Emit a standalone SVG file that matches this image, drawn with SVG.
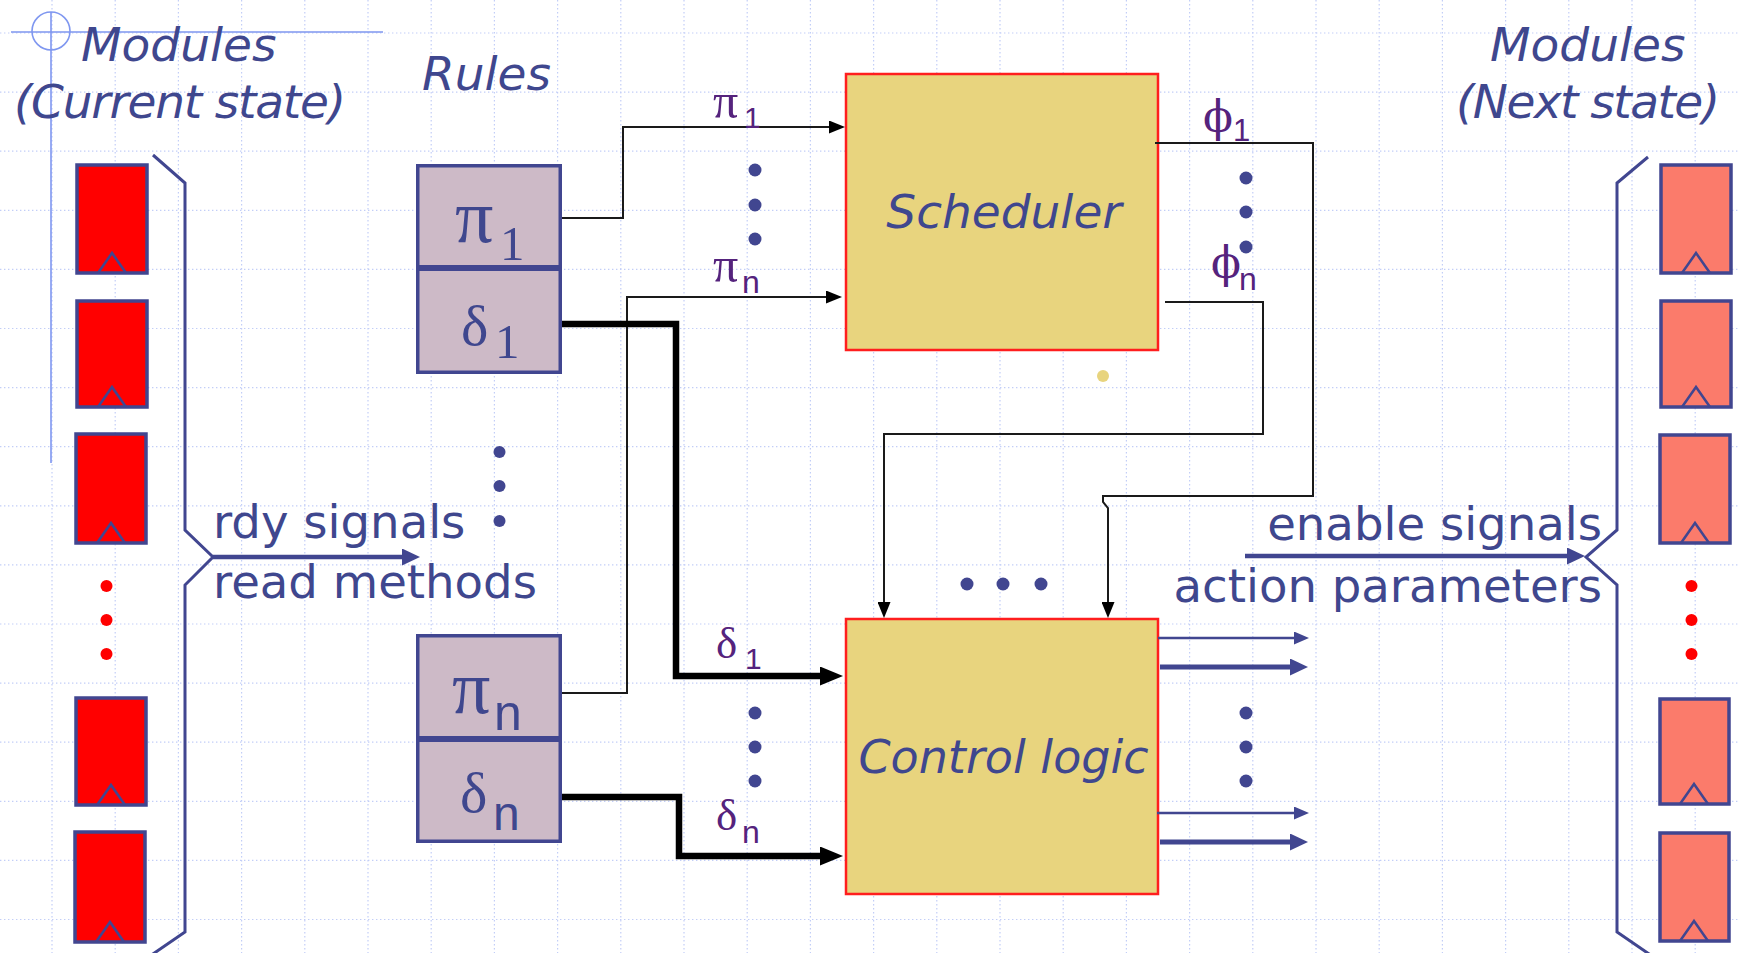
<svg xmlns="http://www.w3.org/2000/svg" width="1740" height="953" viewBox="0 0 1740 953">
<defs>
<style>
.grid line{stroke:#c2cef7;stroke-width:1.2;stroke-dasharray:1.4 2.6}
.guide{stroke:#7f97f0;stroke-width:1.6;fill:none}
.reg rect{stroke:#414690;stroke-width:3.5}
.reg path{stroke:#414690;stroke-width:2.5;fill:none}
.cur rect{fill:#ff0000}
.nxt rect{fill:#fb7b6b}
.brk{stroke:#414690;stroke-width:3;fill:none}
.title{font-family:"DejaVu Sans",Verdana,sans-serif;font-style:italic;font-size:47px;fill:#3f478e}
.lbl{font-family:"DejaVu Sans",Verdana,sans-serif;font-size:46.6px;fill:#3f478e}
.rule{fill:#cdbac7;stroke:#414690;stroke-width:3.5}
.blk{fill:#e8d47e;stroke:#ff1e1e;stroke-width:2.5}
.gk{font-family:"DejaVu Serif","Liberation Serif",serif}
.sr{font-family:"Liberation Serif","Times New Roman",serif}
.sb{font-family:"Liberation Sans",Arial,sans-serif}
.boxg{fill:#3f478e}
.pur{fill:#55237d}
.thin{stroke:#1a1a1a;stroke-width:2;fill:none}
.thick{stroke:#000;stroke-width:6.5;fill:none}
.nv{stroke:#414690;fill:none}
.dot{fill:#414690}
.rdot{fill:#ff0000}
</style>
<marker id="aB" markerUnits="userSpaceOnUse" markerWidth="16" markerHeight="13" refX="6" refY="6.5" orient="auto"><path d="M0,0 L16,6.5 L0,13 z" fill="#000"/></marker>
<marker id="aBT" markerUnits="userSpaceOnUse" markerWidth="23" markerHeight="19" refX="13" refY="9.5" orient="auto"><path d="M0,0 L23,9.5 L0,19 z" fill="#000"/></marker>
<marker id="aN" markerUnits="userSpaceOnUse" markerWidth="18" markerHeight="17" refX="8" refY="8.5" orient="auto"><path d="M0,0 L18,8.5 L0,17 z" fill="#414690"/></marker>
<marker id="aNt" markerUnits="userSpaceOnUse" markerWidth="15" markerHeight="13" refX="5" refY="6.5" orient="auto"><path d="M0,0 L15,6.5 L0,13 z" fill="#414690"/></marker>
</defs>
<rect width="1740" height="953" fill="#ffffff"/>
<g class="grid">
<line x1="52" y1="0" x2="52" y2="953"/><line x1="115.2" y1="0" x2="115.2" y2="953"/><line x1="178.4" y1="0" x2="178.4" y2="953"/><line x1="241.6" y1="0" x2="241.6" y2="953"/><line x1="304.8" y1="0" x2="304.8" y2="953"/><line x1="368" y1="0" x2="368" y2="953"/><line x1="431.2" y1="0" x2="431.2" y2="953"/><line x1="494.4" y1="0" x2="494.4" y2="953"/><line x1="557.6" y1="0" x2="557.6" y2="953"/><line x1="620.8" y1="0" x2="620.8" y2="953"/><line x1="684" y1="0" x2="684" y2="953"/><line x1="747.2" y1="0" x2="747.2" y2="953"/><line x1="810.4" y1="0" x2="810.4" y2="953"/><line x1="873.6" y1="0" x2="873.6" y2="953"/><line x1="936.8" y1="0" x2="936.8" y2="953"/><line x1="1000" y1="0" x2="1000" y2="953"/><line x1="1063.2" y1="0" x2="1063.2" y2="953"/><line x1="1126.4" y1="0" x2="1126.4" y2="953"/><line x1="1189.6" y1="0" x2="1189.6" y2="953"/><line x1="1252.8" y1="0" x2="1252.8" y2="953"/><line x1="1316" y1="0" x2="1316" y2="953"/><line x1="1379.2" y1="0" x2="1379.2" y2="953"/><line x1="1442.4" y1="0" x2="1442.4" y2="953"/><line x1="1505.6" y1="0" x2="1505.6" y2="953"/><line x1="1568.8" y1="0" x2="1568.8" y2="953"/><line x1="1632" y1="0" x2="1632" y2="953"/><line x1="1695.2" y1="0" x2="1695.2" y2="953"/>
<line x1="0" y1="33" x2="1740" y2="33"/><line x1="0" y1="92.1" x2="1740" y2="92.1"/><line x1="0" y1="151.2" x2="1740" y2="151.2"/><line x1="0" y1="210.3" x2="1740" y2="210.3"/><line x1="0" y1="269.4" x2="1740" y2="269.4"/><line x1="0" y1="328.5" x2="1740" y2="328.5"/><line x1="0" y1="387.6" x2="1740" y2="387.6"/><line x1="0" y1="446.7" x2="1740" y2="446.7"/><line x1="0" y1="505.8" x2="1740" y2="505.8"/><line x1="0" y1="564.9" x2="1740" y2="564.9"/><line x1="0" y1="624" x2="1740" y2="624"/><line x1="0" y1="683.1" x2="1740" y2="683.1"/><line x1="0" y1="742.2" x2="1740" y2="742.2"/><line x1="0" y1="801.3" x2="1740" y2="801.3"/><line x1="0" y1="860.4" x2="1740" y2="860.4"/><line x1="0" y1="919.5" x2="1740" y2="919.5"/>
</g>
<g id="guides">
<path class="guide" d="M11,32 H383 M51,12 V463"/>
<circle class="guide" cx="51" cy="31" r="19"/>
</g>
<g id="titles">
<text class="title" x="81" y="61">Modules</text>
<text class="title" x="14" y="118" textLength="332">(Current state)</text>
<text class="title" x="422" y="90">Rules</text>
<text class="title" x="1490" y="61">Modules</text>
<text class="title" x="1456" y="118" textLength="264">(Next state)</text>
</g>
<g id="current-modules" class="reg cur">
<rect x="77" y="165" width="70" height="108"/><path d="M98,273 L112,253 L126,273"/>
<rect x="77" y="301" width="70" height="106"/><path d="M98,407 L112,387 L126,407"/>
<rect x="76" y="434" width="70" height="109"/><path d="M97,543 L111,523 L125,543"/>
<rect x="76" y="698" width="70" height="107"/><path d="M97,805 L111,785 L125,805"/>
<rect x="75" y="832" width="70" height="110"/><path d="M96,942 L110,922 L124,942"/>
</g>
<g id="next-modules" class="reg nxt">
<rect x="1661" y="165" width="70" height="108"/><path d="M1682,273 L1696,253 L1710,273"/>
<rect x="1661" y="301" width="70" height="106"/><path d="M1682,407 L1696,387 L1710,407"/>
<rect x="1660" y="435" width="70" height="108"/><path d="M1681,543 L1695,523 L1709,543"/>
<rect x="1660" y="699" width="69" height="105"/><path d="M1680,804 L1694,784 L1708,804"/>
<rect x="1660" y="833" width="69" height="108"/><path d="M1680,941 L1694,921 L1708,941"/>
</g>
<g id="red-dots">
<circle class="rdot" cx="106.5" cy="586" r="6"/><circle class="rdot" cx="106.5" cy="620" r="6"/><circle class="rdot" cx="106.5" cy="654" r="6"/>
<circle class="rdot" cx="1691.5" cy="586" r="6"/><circle class="rdot" cx="1691.5" cy="620" r="6"/><circle class="rdot" cx="1691.5" cy="654" r="6"/>
</g>
<g id="brackets">
<path class="brk" d="M153,155 L185,183 V530 L213,557 L185,585 V932 L150,956"/>
<path class="brk" d="M1648,157 L1617,183 V530 L1586,557 L1617,585 V932 L1652,956"/>
</g>
<g id="rule-1">
<rect class="rule" x="417.75" y="165.75" width="142.5" height="206.5"/>
<line x1="417" y1="268" x2="561" y2="268" stroke="#414690" stroke-width="6"/>
<text class="sr boxg" x="455" y="242" font-size="76">π</text><text class="sr boxg" x="500" y="260" font-size="49">1</text>
<text class="sr boxg" x="461" y="345" font-size="58">δ</text><text class="sr boxg" x="495" y="358" font-size="49">1</text>
</g>
<g id="rule-n">
<rect class="rule" x="417.75" y="635.75" width="142.5" height="205.5"/>
<line x1="417" y1="739" x2="561" y2="739" stroke="#414690" stroke-width="6"/>
<text class="sr boxg" x="452" y="713" font-size="76">π</text><text class="sb boxg" x="494" y="730" font-size="50">n</text>
<text class="sr boxg" x="460" y="812" font-size="58">δ</text><text class="sb boxg" x="493" y="830" font-size="48">n</text>
</g>
<g id="scheduler">
<rect class="blk" x="846" y="74" width="312" height="276"/>
<text class="title" x="1004" y="228" text-anchor="middle">Scheduler</text>
</g>
<g id="control-logic">
<rect class="blk" x="846" y="619" width="312" height="275"/>
<text class="title" x="1003.5" y="773" text-anchor="middle" style="font-size:46px">Control logic</text>
</g>
<circle cx="1103" cy="376" r="6" fill="#e8d47e"/>
<g id="connectors">
<path class="thin" d="M562,218 H623 V127 H835" marker-end="url(#aB)"/>
<path class="thin" d="M562,693 H627 V297 H832" marker-end="url(#aB)"/>
<path class="thick" d="M562,324 H676 V676 H833" marker-end="url(#aBT)"/>
<path class="thick" d="M562,797 H679 V856 H833" marker-end="url(#aBT)"/>
<path class="thin" d="M1155,143 H1313 V496 H1103 V502 L1108,508 V608" marker-end="url(#aB)"/>
<path class="thin" d="M1165,302 H1263 V434 H884 V608" marker-end="url(#aB)"/>
<path class="nv" stroke-width="4.5" d="M213,557 H410" marker-end="url(#aN)"/>
<path class="nv" stroke-width="4.5" d="M1245,556 H1575" marker-end="url(#aN)"/>
<path class="nv" stroke-width="2.5" d="M1158,638 H1299" marker-end="url(#aNt)"/>
<path class="nv" stroke-width="5" d="M1160,667 H1298" marker-end="url(#aN)"/>
<path class="nv" stroke-width="2.5" d="M1157,813 H1299" marker-end="url(#aNt)"/>
<path class="nv" stroke-width="5" d="M1160,842 H1298" marker-end="url(#aN)"/>
</g>
<g id="signal-labels">
<text class="pur" x="713" y="118"><tspan class="sr" font-size="50">π</tspan><tspan class="sb" x="744" y="128" font-size="30">1</tspan></text>
<text class="pur" x="713" y="282"><tspan class="sr" font-size="50">π</tspan><tspan class="sb" x="742" y="293" font-size="32">n</tspan></text>
<text class="pur" x="716" y="658"><tspan class="sr" font-size="45">δ</tspan><tspan class="sb" x="745" y="669" font-size="30">1</tspan></text>
<text class="pur" x="716" y="830"><tspan class="sr" font-size="45">δ</tspan><tspan class="sb" x="742" y="843" font-size="32">n</tspan></text>
<text class="pur" x="1203" y="132"><tspan class="gk" font-size="44">ϕ</tspan><tspan class="sb" x="1233" y="141" font-size="31">1</tspan></text>
<text class="pur" x="1211" y="278"><tspan class="gk" font-size="44">ϕ</tspan><tspan class="sb" x="1239" y="290" font-size="32">n</tspan></text>
<text class="lbl" x="213" y="538">rdy signals</text>
<text class="lbl" x="213" y="598">read methods</text>
<text class="lbl" x="1602" y="540" text-anchor="end">enable signals</text>
<text class="lbl" x="1602" y="602" text-anchor="end">action parameters</text>
</g>
<g id="ellipses">
<circle class="dot" cx="499.5" cy="452" r="6"/><circle class="dot" cx="499.5" cy="486" r="6"/><circle class="dot" cx="499.5" cy="521" r="6"/>
<circle class="dot" cx="755" cy="170" r="6.5"/><circle class="dot" cx="755" cy="205" r="6.5"/><circle class="dot" cx="755" cy="239" r="6.5"/>
<circle class="dot" cx="755" cy="713" r="6.5"/><circle class="dot" cx="755" cy="747" r="6.5"/><circle class="dot" cx="755" cy="781" r="6.5"/>
<circle class="dot" cx="1246" cy="178" r="6.5"/><circle class="dot" cx="1246" cy="212" r="6.5"/><circle class="dot" cx="1246" cy="247" r="6.5"/>
<circle class="dot" cx="1246" cy="713" r="6.5"/><circle class="dot" cx="1246" cy="747" r="6.5"/><circle class="dot" cx="1246" cy="781" r="6.5"/>
<circle class="dot" cx="967" cy="584" r="6.5"/><circle class="dot" cx="1003" cy="584" r="6.5"/><circle class="dot" cx="1041" cy="584" r="6.5"/>
</g>
</svg>
